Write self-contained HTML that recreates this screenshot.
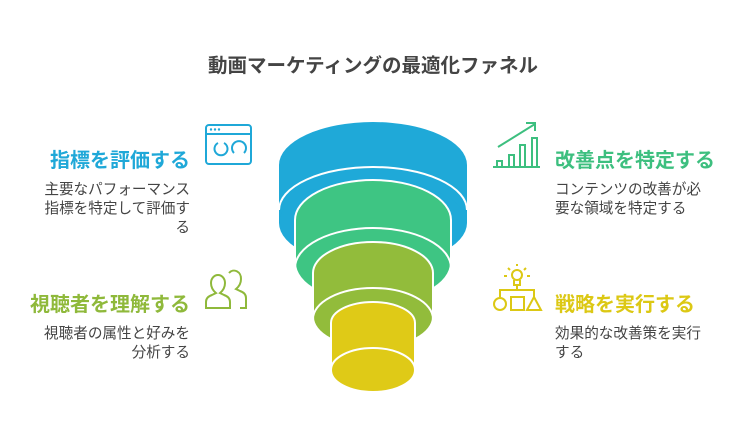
<!DOCTYPE html><html><head><meta charset="utf-8"><style>
body{margin:0;background:#fff;width:746px;height:447px;overflow:hidden;position:relative;font-family:"Liberation Sans","Noto Sans CJK JP",sans-serif}
.t{position:absolute;white-space:nowrap}
.h{font-size:20px;font-weight:bold}
.d{font-size:14.6px;color:#444;line-height:19px}
</style></head><body>
<div class="t" style="left:0;width:746px;text-align:center;top:49px;font-size:19.5px;font-weight:bold;color:#444">動画マーケティングの最適化ファネル</div>
<div class="t h" style="right:556px;top:144px;color:#1fa8d8">指標を評価する</div>
<div class="t d" style="right:556px;top:181px;text-align:right">主要なパフォーマンス<br>指標を特定して評価す<br>る</div>
<div class="t h" style="right:556px;top:288px;color:#8fb93b">視聴者を理解する</div>
<div class="t d" style="right:556px;top:325px;text-align:right">視聴者の属性と好みを<br>分析する</div>
<div class="t h" style="left:555px;top:144px;color:#3dbf7f">改善点を特定する</div>
<div class="t d" style="left:555px;top:181px">コンテンツの改善が必<br>要な領域を特定する</div>
<div class="t h" style="left:555px;top:288px;color:#dcc814">戦略を実行する</div>
<div class="t d" style="left:555px;top:325px">効果的な改善策を実行<br>する</div>
<svg width="746" height="447" style="position:absolute;left:0;top:0">
<g fill="#1fa9d8"><ellipse cx="373" cy="165" rx="94" ry="43"/><rect x="279" y="165" width="188" height="58"/><ellipse cx="373" cy="223" rx="94" ry="43"/></g>
<path d="M279 210 A94 43 0 0 1 467 210" fill="none" stroke="#fff" stroke-width="2"/>
<g fill="#3ec583" stroke="#fff" stroke-width="2"><path d="M295 220 A78 40 0 0 1 451 220 V263 A78 40 0 0 1 295 263 Z"/></g>
<path d="M295 268 A78 40 0 0 1 451 268" fill="none" stroke="#fff" stroke-width="2"/>
<g fill="#92bc3b" stroke="#fff" stroke-width="2"><path d="M313 273 A60 31 0 0 1 433 273 V317 A60 31 0 0 1 313 317 Z"/></g>
<path d="M313 319 A60 31 0 0 1 433 319" fill="none" stroke="#fff" stroke-width="2"/>
<g fill="#dfca17" stroke="#fff" stroke-width="2"><path d="M331 323 A42 21 0 0 1 415 323 V370 A42 22 0 0 1 331 370 Z"/></g>
<path d="M331 370 A42 22 0 0 1 415 370" fill="none" stroke="#fff" stroke-width="2"/>
<g fill="none" stroke="#1fa8d8" stroke-width="2"><rect x="206" y="125" width="45" height="39" rx="3"/><line x1="206" y1="134" x2="251" y2="134"/><path d="M218 143 a6.5 6.5 0 1 0 6 0"/><path d="M234 153 a7 7 0 1 1 10 0"/></g>
<g fill="#1fa8d8"><circle cx="211" cy="129.5" r="1.2"/><circle cx="215" cy="129.5" r="1.2"/><circle cx="219" cy="129.5" r="1.2"/></g>
<g fill="none" stroke="#8fb93b" stroke-width="2"><path d="M206 308 v-6 q0-5 6-7 l4-2 q-5-4-5-10 a7 8 0 0 1 14 0 q0 6-5 10 l4 2 q6 2 6 7 v6 z"/><path d="M229 273 a7 8 0 0 1 12 6 q0 6-5 10 l4 2 q6 2 6 7 v10 h-6"/></g>
<g fill="none" stroke="#3dbf7f" stroke-width="2"><line x1="493" y1="167" x2="540" y2="167"/><rect x="497" y="161" width="5" height="6"/><rect x="509" y="155" width="5" height="12"/><rect x="520" y="145" width="5" height="22"/><rect x="532" y="138" width="5" height="29"/><path d="M498 147 L535 124 M526 123 h9 v8"/></g>
<g fill="none" stroke="#dcc814" stroke-width="2"><circle cx="517" cy="275" r="5"/><path d="M514 280 v5 h6 v-5 M517 285 v5 M500 297 v-7 h34 v7"/><circle cx="500" cy="304" r="6"/><rect x="511" y="297" width="13" height="13"/><path d="M534 297 l7 13 h-14 z"/><path d="M508 268 l2 2 M526 268 l-2 2 M517 264 v2 M504 276 h3 M527 276 h3"/></g>
</svg>
</body></html>
